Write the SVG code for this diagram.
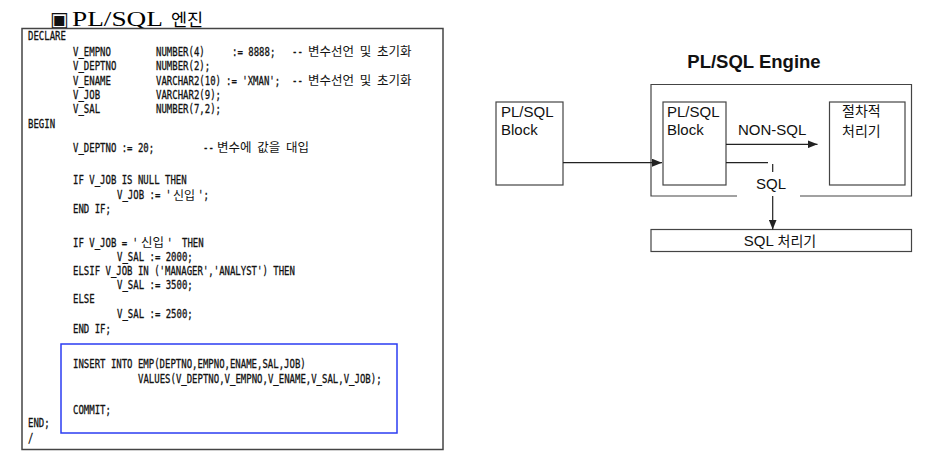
<svg xmlns="http://www.w3.org/2000/svg" width="938" height="459" viewBox="0 0 938 459">
<style>
.c{font-family:"DejaVu Sans Mono","Liberation Mono",monospace;font-size:9px;fill:#111;stroke:#111;stroke-width:0.22}
.k{font-family:"Noto Sans CJK KR",sans-serif;font-size:12.5px;word-spacing:3px;fill:#111}
.lb{font-family:"Liberation Sans",Arial,sans-serif;font-size:15px;fill:#111}
.kb{font-family:"Noto Sans CJK KR",sans-serif;font-size:14px;fill:#111}
.box{fill:#fff;stroke:#444;stroke-width:1.2}
.ln{fill:none;stroke:#222;stroke-width:1.2}
</style>
<defs>
<marker id="ah" markerUnits="userSpaceOnUse" markerWidth="10" markerHeight="8" refX="10" refY="4" orient="auto">
<path d="M0,0 L10,4 L0,8 Z" fill="#222"/>
</marker>
</defs>
<rect width="938" height="459" fill="#fff"/>

<g id="title">
<text x="50" y="26" style="font-family:'DejaVu Sans',sans-serif;font-size:20px;fill:#111">▣</text>
<text x="72" y="26" textLength="91" lengthAdjust="spacingAndGlyphs" style="font-family:'Liberation Serif',serif;font-size:20px;fill:#000">PL/SQL</text>
<text x="171" y="26" style="font-family:'Noto Sans CJK KR',sans-serif;font-size:17.5px;fill:#000">엔진</text>
</g>

<g id="code-panel">
<rect x="22" y="28.5" width="421" height="421" fill="#fff" stroke="#444" stroke-width="1.5"/>
<rect x="61" y="344" width="336" height="89" fill="none" stroke="#2b3cf2" stroke-width="1.5"/>
<g transform="matrix(1 0 0 1.4 0 -16)"><text class="c" x="28" y="40">DECLARE</text></g>
<g transform="matrix(1 0 0 1.4 0 -22.4)">
<text class="c" x="73" y="56">V_EMPNO</text>
<text class="c" x="156" y="56">NUMBER(4)</text>
<text class="c" x="232" y="56">:= 8888;</text>
<text class="c" x="292" y="56">--</text>
</g>
<text class="k" x="308" y="56">변수선언 및 초기화</text>
<g transform="matrix(1 0 0 1.4 0 -28)">
<text class="c" x="73" y="70">V_DEPTNO</text>
<text class="c" x="156" y="70">NUMBER(2);</text>
</g>
<g transform="matrix(1 0 0 1.4 0 -34)">
<text class="c" x="73" y="85">V_ENAME</text>
<text class="c" x="156" y="85">VARCHAR2(10)</text>
<text class="c" x="226" y="85">:= 'XMAN';</text>
<text class="c" x="292" y="85">--</text>
</g>
<text class="k" x="308" y="85">변수선언 및 초기화</text>
<g transform="matrix(1 0 0 1.4 0 -39.6)">
<text class="c" x="73" y="99">V_JOB</text>
<text class="c" x="156" y="99">VARCHAR2(9);</text>
</g>
<g transform="matrix(1 0 0 1.4 0 -45.2)">
<text class="c" x="73" y="113">V_SAL</text>
<text class="c" x="156" y="113">NUMBER(7,2);</text>
</g>
<g transform="matrix(1 0 0 1.4 0 -51.2)"><text class="c" x="28" y="128">BEGIN</text></g>
<g transform="matrix(1 0 0 1.4 0 -60.8)">
<text class="c" x="73" y="152">V_DEPTNO := 20;</text>
<text class="c" x="203" y="152">--</text>
</g>
<text class="k" x="217" y="152">변수에 값을 대입</text>
<g transform="matrix(1 0 0 1.4 0 -73.8)"><text class="c" x="73" y="184.5">IF V_JOB IS NULL THEN</text></g>
<g transform="matrix(1 0 0 1.4 0 -79.8)">
<text class="c" x="117" y="199.5">V_JOB := '</text>
<text class="c" x="198" y="199.5">';</text>
</g>
<text class="k" x="173" y="199.5" style="font-size:12px">신입</text>
<g transform="matrix(1 0 0 1.4 0 -85.2)"><text class="c" x="73" y="213">END IF;</text></g>
<g transform="matrix(1 0 0 1.4 0 -98.8)">
<text class="c" x="73" y="247">IF V_JOB = '</text>
<text class="c" x="167" y="247">'</text>
<text class="c" x="182" y="247">THEN</text>
</g>
<text class="k" x="141" y="247">신입</text>
<g transform="matrix(1 0 0 1.4 0 -104.4)"><text class="c" x="117" y="261">V_SAL := 2000;</text></g>
<g transform="matrix(1 0 0 1.4 0 -110)"><text class="c" x="73" y="275">ELSIF V_JOB IN ('MANAGER','ANALYST') THEN</text></g>
<g transform="matrix(1 0 0 1.4 0 -115.6)"><text class="c" x="117" y="289">V_SAL := 3500;</text></g>
<g transform="matrix(1 0 0 1.4 0 -121.2)"><text class="c" x="73" y="303">ELSE</text></g>
<g transform="matrix(1 0 0 1.4 0 -127.2)"><text class="c" x="117" y="318">V_SAL := 2500;</text></g>
<g transform="matrix(1 0 0 1.4 0 -133.2)"><text class="c" x="73" y="333">END IF;</text></g>
<g transform="matrix(1 0 0 1.4 0 -147.2)"><text class="c" x="73" y="368">INSERT INTO EMP(DEPTNO,EMPNO,ENAME,SAL,JOB)</text></g>
<g transform="matrix(1 0 0 1.4 0 -153.2)"><text class="c" x="138" y="383">VALUES(V_DEPTNO,V_EMPNO,V_ENAME,V_SAL,V_JOB);</text></g>
<g transform="matrix(1 0 0 1.4 0 -165.6)"><text class="c" x="73" y="414">COMMIT;</text></g>
<g transform="matrix(1 0 0 1.4 0 -170.8)"><text class="c" x="28" y="427">END;</text></g>
<g transform="matrix(1 0 0 1.4 0 -176.8)"><text class="c" x="28" y="442">/</text></g>
</g>

<g id="engine-title">
<text x="754" y="68" text-anchor="middle" style="font-family:'Liberation Sans',Arial,sans-serif;font-size:18.5px;font-weight:bold;fill:#111">PL/SQL Engine</text>
</g>

<g id="engine">
<path d="M737,196 L651,196 L651,84.5 L911.5,84.5 L911.5,196 L800,196" class="ln" style="stroke:#444"/>
</g>

<g id="left-block">
<rect class="box" x="496" y="102" width="67" height="83"/>
<text class="lb" x="501" y="117">PL/SQL</text>
<text class="lb" x="501" y="135">Block</text>
</g>

<g id="inner-block">
<rect class="box" x="663" y="102" width="63" height="83"/>
<text class="lb" x="667" y="117">PL/SQL</text>
<text class="lb" x="667" y="135">Block</text>
</g>

<g id="proc">
<rect class="box" x="829.5" y="102" width="75.5" height="83"/>
<text class="kb" x="842" y="116">절차적</text>
<text class="kb" x="842" y="136">처리기</text>
</g>

<g id="sql-proc">
<rect class="box" x="651" y="229.5" width="260.5" height="22"/>
<text x="780" y="246" text-anchor="middle"><tspan class="lb">SQL </tspan><tspan class="kb">처리기</tspan></text>
</g>

<g id="connectors">
<line class="ln" x1="563" y1="162.7" x2="662" y2="162.7" marker-end="url(#ah)"/>
<line class="ln" x1="726" y1="144.3" x2="817.5" y2="144.3" marker-end="url(#ah)"/>
<text class="lb" x="738" y="134.5">NON-SQL</text>
<polyline class="ln" points="726,162.7 768,162.7"/>
<line class="ln" x1="772.7" y1="164" x2="772.7" y2="172"/>
<text class="lb" x="771" y="189" text-anchor="middle">SQL</text>
<line class="ln" x1="772.7" y1="196" x2="772.7" y2="229.5" marker-end="url(#ah)"/>
</g>
</svg>
